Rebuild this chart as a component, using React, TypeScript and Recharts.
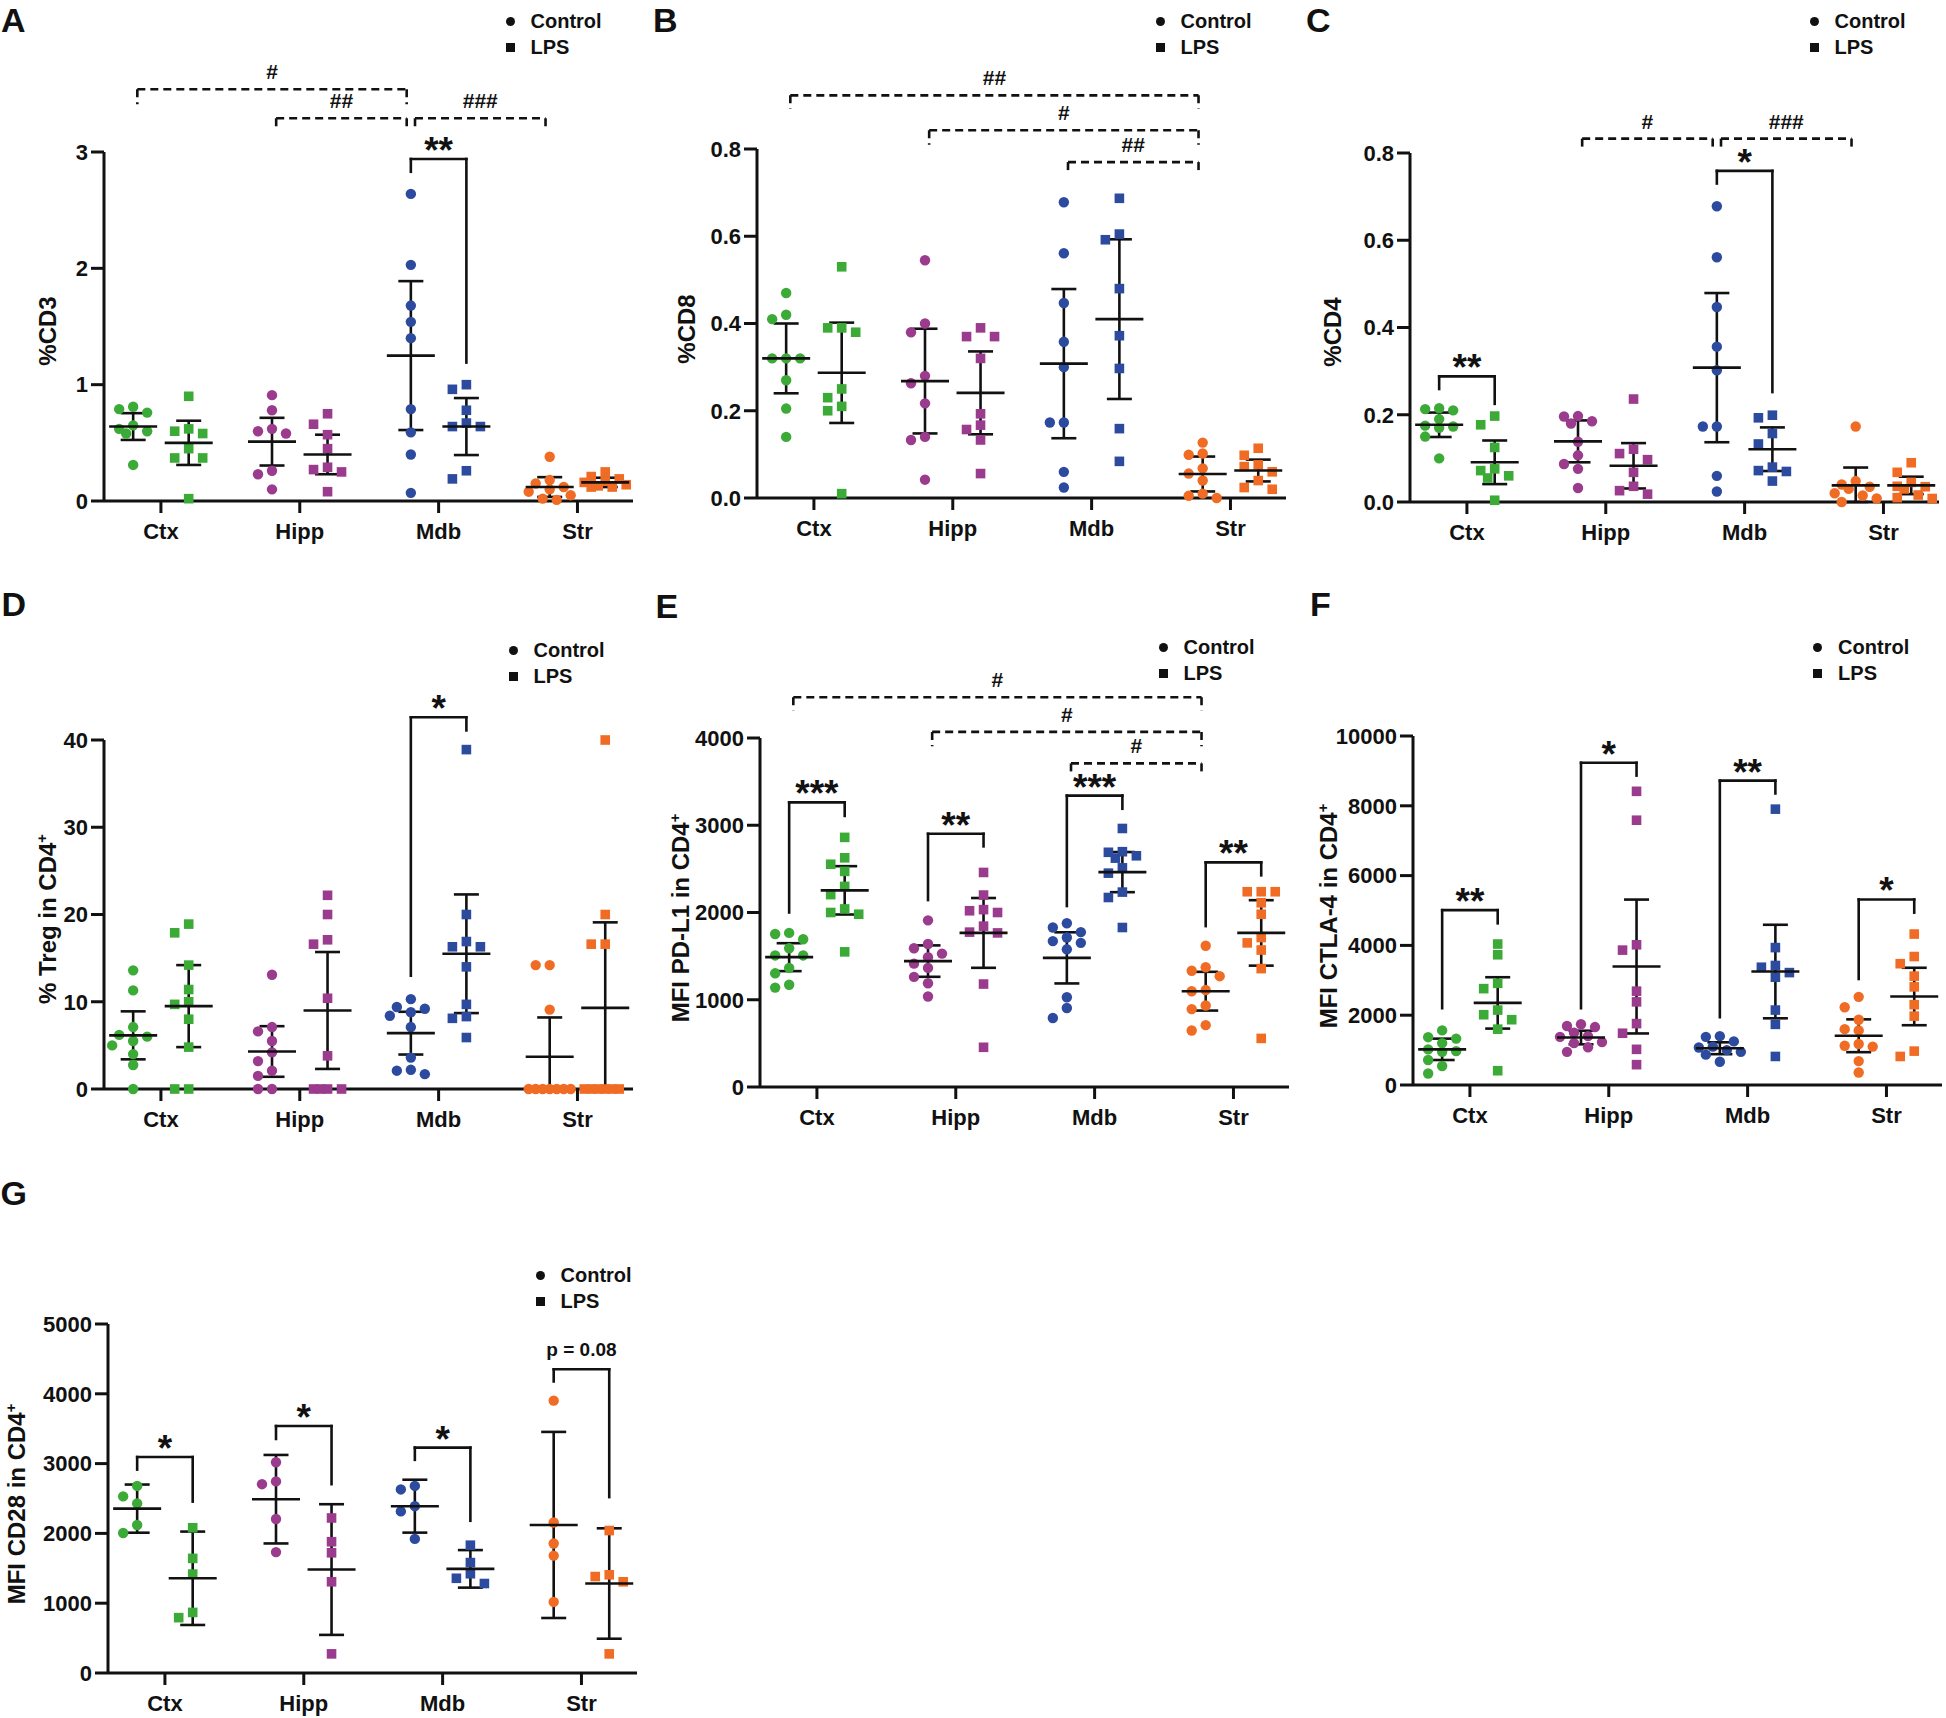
import React from "react";
import { ScatterChart, Scatter, XAxis, YAxis, ErrorBar, ReferenceLine } from "recharts";

const REGIONS = ["Ctx", "Hipp", "Mdb", "Str"];
const COLORS = ["#3BAA36", "#9B3B8D", "#2D4B9E", "#F06B23"];

type Bracket = {
  from: [number, number]; // [region, group] group 0 = Control, 1 = LPS
  to: [number, number];
  y: number;
  legs: [number, number];
  text: string;
  dashed?: boolean;
};

// A: %CD3
const cd3Ctrl = [
  [0.81, 0.79, 0.76, 0.65, 0.62, 0.6, 0.58, 0.31],
  [0.91, 0.78, 0.62, 0.6, 0.58, 0.26, 0.23, 0.1],
  [2.64, 2.03, 1.68, 1.54, 1.4, 0.79, 0.59, 0.4, 0.07],
  [0.38, 0.18, 0.15, 0.12, 0.1, 0.08, 0.05, 0.02, 0.01],
];
const cd3Lps = [
  [0.9, 0.62, 0.6, 0.58, 0.45, 0.37, 0.37, 0.02],
  [0.75, 0.66, 0.57, 0.45, 0.29, 0.27, 0.25, 0.08],
  [1.0, 0.96, 0.78, 0.67, 0.64, 0.64, 0.26, 0.19],
  [0.25, 0.21, 0.19, 0.17, 0.16, 0.14, 0.13, 0.12, 0.12],
];
const cd3CtrlMean = [0.64, 0.51, 1.25, 0.12];
const cd3CtrlSd = [0.115, 0.205, 0.64, 0.085];
const cd3LpsMean = [0.5, 0.4, 0.64, 0.16];
const cd3LpsSd = [0.19, 0.17, 0.245, 0.04];
const cd3Ticks = [0, 1, 2, 3];
const cd3Brackets: Bracket[] = [
  { from: [0, 0], to: [2, 0], y: 3.54, legs: [3.41, 3.41], text: "#", dashed: true },
  { from: [1, 0], to: [2, 0], y: 3.29, legs: [3.18, 3.18], text: "##", dashed: true },
  { from: [2, 0], to: [3, 0], y: 3.29, legs: [3.18, 3.18], text: "###", dashed: true },
  { from: [2, 0], to: [2, 1], y: 2.94, legs: [2.83, 1.19], text: "**" },
];

// B: %CD8
const cd8Ctrl = [
  [0.47, 0.42, 0.41, 0.32, 0.32, 0.32, 0.27, 0.205, 0.14],
  [0.545, 0.4, 0.38, 0.28, 0.263, 0.217, 0.14, 0.133, 0.042],
  [0.678, 0.561, 0.447, 0.358, 0.3, 0.173, 0.173, 0.06, 0.024],
  [0.127, 0.102, 0.099, 0.068, 0.056, 0.04, 0.01, 0.005, 0.0],
];
const cd8Lps = [
  [0.53, 0.39, 0.39, 0.38, 0.25, 0.23, 0.21, 0.2, 0.01],
  [0.39, 0.37, 0.37, 0.32, 0.193, 0.167, 0.157, 0.133, 0.056],
  [0.687, 0.605, 0.592, 0.48, 0.372, 0.297, 0.159, 0.084],
  [0.114, 0.098, 0.076, 0.072, 0.06, 0.04, 0.024, 0.02],
];
const cd8CtrlMean = [0.32, 0.268, 0.308, 0.055];
const cd8CtrlSd = [0.08, 0.12, 0.171, 0.04];
const cd8LpsMean = [0.287, 0.241, 0.41, 0.063];
const cd8LpsSd = [0.115, 0.095, 0.183, 0.025];
const cd8Ticks = [0, 0.2, 0.4, 0.6, 0.8];
const cd8Brackets: Bracket[] = [
  { from: [0, 0], to: [3, 0], y: 0.923, legs: [0.892, 0.892], text: "##", dashed: true },
  { from: [1, 0], to: [3, 0], y: 0.843, legs: [0.81, 0.81], text: "#", dashed: true },
  { from: [2, 0], to: [3, 0], y: 0.77, legs: [0.744, 0.744], text: "##", dashed: true },
];

// C: %CD4
const cd4Ctrl = [
  [0.215, 0.213, 0.21, 0.19, 0.175, 0.173, 0.17, 0.15, 0.1],
  [0.197, 0.196, 0.185, 0.18, 0.138, 0.107, 0.087, 0.076, 0.032],
  [0.678, 0.561, 0.447, 0.356, 0.302, 0.173, 0.173, 0.06, 0.024],
  [0.173, 0.048, 0.04, 0.035, 0.03, 0.02, 0.015, 0.008, 0.0],
];
const cd4Lps = [
  [0.197, 0.177, 0.125, 0.076, 0.072, 0.06, 0.055, 0.004],
  [0.236, 0.121, 0.111, 0.097, 0.068, 0.036, 0.026, 0.018],
  [0.199, 0.193, 0.157, 0.133, 0.08, 0.072, 0.07, 0.048],
  [0.09, 0.068, 0.045, 0.036, 0.035, 0.03, 0.016, 0.01, 0.008],
];
const cd4CtrlMean = [0.177, 0.139, 0.308, 0.038];
const cd4CtrlSd = [0.028, 0.048, 0.171, 0.041];
const cd4LpsMean = [0.091, 0.083, 0.121, 0.038];
const cd4LpsSd = [0.05, 0.052, 0.05, 0.02];
const cd4Ticks = [0, 0.2, 0.4, 0.6, 0.8];
const cd4Brackets: Bracket[] = [
  { from: [0, 0], to: [0, 1], y: 0.288, legs: [0.259, 0.225], text: "**" },
  { from: [1, 0], to: [2, 0], y: 0.833, legs: [0.805, 0.805], text: "#", dashed: true },
  { from: [2, 0], to: [3, 0], y: 0.833, legs: [0.805, 0.805], text: "###", dashed: true },
  { from: [2, 0], to: [2, 1], y: 0.759, legs: [0.73, 0.252], text: "*" },
];

// D: % Treg in CD4+
const tregCtrl = [
  [13.6, 11.3, 7.1, 6.2, 6.0, 5.5, 5.0, 4.0, 2.75, 0],
  [13.1, 7.1, 6.6, 5.5, 4.2, 3.2, 2.1, 1.5, 0, 0],
  [10.3, 9.4, 9.2, 8.8, 8.4, 7.1, 3.6, 2.2, 2.1, 1.7],
  [14.2, 14.2, 9.1, 0, 0, 0, 0, 0, 0, 0],
];
const tregLps = [
  [18.9, 17.9, 14.2, 11.4, 10.0, 9.7, 8.0, 4.8, 0, 0],
  [22.2, 20.0, 17.1, 16.6, 10.4, 3.8, 0, 0, 0, 0],
  [38.9, 20.0, 16.9, 16.3, 16.3, 14.0, 9.7, 8.3, 8.1, 5.9],
  [40, 20, 16.6, 16.6, 0, 0, 0, 0, 0, 0],
];
const tregCtrlMean = [6.15, 4.3, 6.4, 3.7];
const tregCtrlSd = [2.75, 2.9, 2.45, 4.5];
const tregLpsMean = [9.5, 9.0, 15.5, 9.3];
const tregLpsSd = [4.7, 6.7, 6.8, 9.8];
const tregTicks = [0, 10, 20, 30, 40];
const tregBrackets: Bracket[] = [
  { from: [2, 0], to: [2, 1], y: 42.6, legs: [13.0, 41.1], text: "*" },
];

// E: MFI PD-L1 in CD4+
const pdl1Ctrl = [
  [1766, 1754, 1693, 1590, 1508, 1508, 1365, 1303, 1172, 1139],
  [1910, 1639, 1590, 1529, 1488, 1414, 1365, 1262, 1189, 1037],
  [1877, 1828, 1775, 1713, 1672, 1652, 1578, 1029, 906, 791],
  [1619, 1373, 1332, 1270, 1111, 1098, 934, 893, 709, 648],
];
const pdl1Lps = [
  [2861, 2627, 2553, 2471, 2299, 2205, 2041, 2000, 1980, 1549],
  [2459, 2200, 2033, 2020, 2000, 1844, 1775, 1766, 1180, 455],
  [2963, 2697, 2690, 2650, 2623, 2512, 2451, 2234, 2172, 1828],
  [2238, 2238, 2238, 2111, 1980, 1713, 1652, 1570, 1357, 557],
];
const pdl1CtrlMean = [1488, 1443, 1480, 1098];
const pdl1CtrlSd = [160, 180, 293, 222];
const pdl1LpsMean = [2254, 1766, 2463, 1766];
const pdl1LpsSd = [277, 400, 230, 375];
const pdl1Ticks = [0, 1000, 2000, 3000, 4000];
const pdl1Brackets: Bracket[] = [
  { from: [0, 0], to: [0, 1], y: 3262, legs: [2000, 3107], text: "***" },
  { from: [1, 0], to: [1, 1], y: 2902, legs: [2143, 2758], text: "**" },
  { from: [2, 0], to: [2, 1], y: 3340, legs: [2074, 3189], text: "***" },
  { from: [3, 0], to: [3, 1], y: 2574, legs: [1844, 2426], text: "**" },
  { from: [0, 0], to: [3, 0], y: 4467, legs: [4316, 4316], text: "#", dashed: true },
  { from: [1, 0], to: [3, 0], y: 4070, legs: [3906, 3906], text: "#", dashed: true },
  { from: [2, 0], to: [3, 0], y: 3709, legs: [3566, 3566], text: "#", dashed: true },
];

// F: MFI CTLA-4 in CD4+
const ctla4Ctrl = [
  [1564, 1370, 1330, 1200, 1020, 970, 950, 716, 545, 330],
  [1740, 1690, 1660, 1500, 1400, 1380, 1230, 1200, 1080, 950],
  [1400, 1380, 1250, 1100, 1074, 1000, 950, 869, 665],
  [2526, 2229, 1871, 1600, 1564, 1176, 1125, 1100, 685, 358],
];
const ctla4Lps = [
  [4039, 3732, 2914, 2761, 2147, 2014, 1871, 1600, 409],
  [8415, 7587, 4018, 3865, 2689, 2382, 1759, 1483, 1022, 583],
  [7904, 3937, 3425, 3374, 3221, 3088, 2147, 1738, 818],
  [4325, 3681, 3476, 3119, 2812, 2301, 1973, 971, 818],
];
const ctla4CtrlMean = [1022, 1360, 1053, 1411];
const ctla4CtrlSd = [306, 195, 170, 470];
const ctla4LpsMean = [2352, 3395, 3251, 2536];
const ctla4LpsSd = [736, 1918, 1340, 823];
const ctla4Ticks = [0, 2000, 4000, 6000, 8000, 10000];
const ctla4Brackets: Bracket[] = [
  { from: [0, 0], to: [0, 1], y: 5010, legs: [2200, 4632], text: "**" },
  { from: [1, 0], to: [1, 1], y: 9233, legs: [2200, 8865], text: "*" },
  { from: [2, 0], to: [2, 1], y: 8722, legs: [1943, 8354], text: "**" },
  { from: [3, 0], to: [3, 1], y: 5317, legs: [3037, 4939], text: "*" },
];

// G: MFI CD28 in CD4+
const cd28Ctrl = [
  [2680, 2530, 2430, 2121, 2006],
  [3019, 2745, 2705, 2206, 1732],
  [2680, 2630, 2390, 2315, 1921],
  [3902, 2156, 1856, 1682, 1018],
];
const cd28Lps = [
  [2081, 1642, 1417, 868, 793],
  [2221, 1881, 1722, 1307, 274],
  [1831, 1582, 1422, 1357, 1282],
  [2041, 1407, 1382, 1307, 274],
];
const cd28CtrlMean = [2355, 2490, 2390, 2121];
const cd28CtrlSd = [345, 634, 379, 1333];
const cd28LpsMean = [1357, 1482, 1492, 1282];
const cd28LpsSd = [669, 936, 269, 791];
const cd28Ticks = [0, 1000, 2000, 3000, 4000, 5000];
const cd28Brackets: Bracket[] = [
  { from: [0, 0], to: [0, 1], y: 3094, legs: [2914, 2455], text: "*" },
  { from: [1, 0], to: [1, 1], y: 3538, legs: [3353, 2705], text: "*" },
  { from: [2, 0], to: [2, 1], y: 3229, legs: [3054, 2181], text: "*" },
  { from: [3, 0], to: [3, 1], y: 4351, legs: [4177, 2520], text: "p = 0.08" },
];

// layout
const PH = 349;
const PW = 529;
const YW = 95;
const MT = 150;
const XH = 50;
const MR = 4;
const X_DOMAIN: [number, number] = [0.59, 4.4];
const PX_X = PW / (X_DOMAIN[1] - X_DOMAIN[0]);
const SIDE = 0.2;
const SWARM_STEP = 14;
const SWARM_D = 10.5;
const INK = "#111";
const LW = 2.6;

function swarm(values: number[], pxPerUnit: number): number[] {
  const placed: { dx: number; py: number }[] = [];
  const cands = [0, -1, 1, -0.5, 0.5, -1.5, 1.5];
  return values.map((v) => {
    const py = v * pxPerUnit;
    let best = 0;
    let bestGap = -1;
    for (const k of cands) {
      const dx = k * SWARM_STEP;
      let gap = Infinity;
      for (const p of placed) gap = Math.min(gap, Math.hypot(p.dx - dx, p.py - py));
      if (gap >= SWARM_D) {
        best = dx;
        break;
      }
      if (gap > bestGap) {
        bestGap = gap;
        best = dx;
      }
    }
    placed.push({ dx: best, py });
    return best;
  });
}

const groupX = (region: number, group: number) => region + 1 + (group ? SIDE : -SIDE);

const MeanMark = (props: any) => (
  <line x1={props.cx - 24} x2={props.cx + 24} y1={props.cy} y2={props.cy} stroke={INK} strokeWidth={LW} />
);

function bracketLines(b: Bracket, key: string) {
  const inset = b.dashed ? 0.03 : 0;
  const xa = groupX(b.from[0], b.from[1]) + inset;
  const xb = groupX(b.to[0], b.to[1]) - inset;
  const style = {
    stroke: INK,
    strokeWidth: LW,
    strokeDasharray: b.dashed ? "8 5" : undefined,
    strokeLinecap: b.dashed ? ("butt" as const) : ("square" as const),
  };
  const star = b.text.startsWith("*");
  const hash = b.text.startsWith("#");
  return [
    <ReferenceLine
      key={key + "h"}
      segment={[{ x: xa, y: b.y }, { x: xb, y: b.y }]}
      ifOverflow="visible"
      {...style}
      label={{
        value: b.text,
        position: "top",
        offset: star ? -4 : hash ? 10 : 13,
        fontSize: star ? 37 : hash ? 21 : 19,
        fontWeight: 700,
        fill: INK,
      }}
    />,
    <ReferenceLine key={key + "l"} segment={[{ x: xa, y: b.y }, { x: xa, y: b.legs[0] }]} ifOverflow="visible" {...style} />,
    <ReferenceLine key={key + "r"} segment={[{ x: xb, y: b.y }, { x: xb, y: b.legs[1] }]} ifOverflow="visible" {...style} />,
  ];
}

type PanelDef = {
  letter: string;
  title: React.ReactNode;
  max: number;
  ticks: number[];
  fmt: (v: number) => string;
  ctrl: number[][];
  lps: number[][];
  ctrlMean: number[];
  ctrlSd: number[];
  lpsMean: number[];
  lpsSd: number[];
  brackets: Bracket[];
  x0: number;
  yTop: number;
  titleDx: number;
  legend: [number, number];
  letterPos: [number, number];
};

const int = (v: number) => String(v);
const dec = (v: number) => v.toFixed(1);
const cd4sup = (s: string) => (
  <span>
    {s}
    <sup style={{ fontSize: "62%", verticalAlign: "super", lineHeight: 0 }}>+</sup>
  </span>
);

const PANELS: PanelDef[] = [
  { letter: "A", title: "%CD3", max: 3, ticks: cd3Ticks, fmt: int, ctrl: cd3Ctrl, lps: cd3Lps, ctrlMean: cd3CtrlMean, ctrlSd: cd3CtrlSd, lpsMean: cd3LpsMean, lpsSd: cd3LpsSd, brackets: cd3Brackets, x0: 103.6, yTop: 151.5, titleDx: 56, legend: [510, 21], letterPos: [1, 2.5] },
  { letter: "B", title: "%CD8", max: 0.8, ticks: cd8Ticks, fmt: dec, ctrl: cd8Ctrl, lps: cd8Lps, ctrlMean: cd8CtrlMean, ctrlSd: cd8CtrlSd, lpsMean: cd8LpsMean, lpsSd: cd8LpsSd, brackets: cd8Brackets, x0: 757, yTop: 149, titleDx: 70, legend: [1160, 21], letterPos: [653, 2.5] },
  { letter: "C", title: "%CD4", max: 0.8, ticks: cd4Ticks, fmt: dec, ctrl: cd4Ctrl, lps: cd4Lps, ctrlMean: cd4CtrlMean, ctrlSd: cd4CtrlSd, lpsMean: cd4LpsMean, lpsSd: cd4LpsSd, brackets: cd4Brackets, x0: 1410, yTop: 152.6, titleDx: 77, legend: [1814, 21], letterPos: [1306, 2.5] },
  { letter: "D", title: cd4sup("% Treg in CD4"), max: 40, ticks: tregTicks, fmt: int, ctrl: tregCtrl, lps: tregLps, ctrlMean: tregCtrlMean, ctrlSd: tregCtrlSd, lpsMean: tregLpsMean, lpsSd: tregLpsSd, brackets: tregBrackets, x0: 103.6, yTop: 739.6, titleDx: 56, legend: [513, 650], letterPos: [1.5, 587] },
  { letter: "E", title: cd4sup("MFI PD-L1 in CD4"), max: 4000, ticks: pdl1Ticks, fmt: int, ctrl: pdl1Ctrl, lps: pdl1Lps, ctrlMean: pdl1CtrlMean, ctrlSd: pdl1CtrlSd, lpsMean: pdl1LpsMean, lpsSd: pdl1LpsSd, brackets: pdl1Brackets, x0: 760, yTop: 738, titleDx: 79, legend: [1163, 647], letterPos: [655.5, 589] },
  { letter: "F", title: cd4sup("MFI CTLA-4 in CD4"), max: 10000, ticks: ctla4Ticks, fmt: int, ctrl: ctla4Ctrl, lps: ctla4Lps, ctrlMean: ctla4CtrlMean, ctrlSd: ctla4CtrlSd, lpsMean: ctla4LpsMean, lpsSd: ctla4LpsSd, brackets: ctla4Brackets, x0: 1413, yTop: 736, titleDx: 84, legend: [1817.6, 647], letterPos: [1310, 587] },
  { letter: "G", title: cd4sup("MFI CD28 in CD4"), max: 5000, ticks: cd28Ticks, fmt: int, ctrl: cd28Ctrl, lps: cd28Lps, ctrlMean: cd28CtrlMean, ctrlSd: cd28CtrlSd, lpsMean: cd28LpsMean, lpsSd: cd28LpsSd, brackets: cd28Brackets, x0: 108, yTop: 1324, titleDx: 91, legend: [540, 1275], letterPos: [0.5, 1175.5] },
];

function Legend({ x, y }: { x: number; y: number }) {
  const row = { display: "flex", alignItems: "center", height: 26 } as const;
  const mark = { width: 9, height: 9, background: INK, display: "inline-block", marginRight: 16 } as const;
  return (
    <div style={{ position: "absolute", left: x - 4.5, top: y - 13, fontSize: 20, fontWeight: 700, lineHeight: "26px" }}>
      <div style={row}>
        <span style={{ ...mark, borderRadius: "50%" }} />
        Control
      </div>
      <div style={row}>
        <span style={mark} />
        LPS
      </div>
    </div>
  );
}

function Panel({ p }: { p: PanelDef }) {
  const pxY = PH / p.max;
  const series: { key: string; color: string; square: boolean; data: { x: number; y: number }[] }[] = [];
  [p.ctrl, p.lps].forEach((groups, g) => {
    groups.forEach((vals, r) => {
      const offs = swarm(vals, pxY);
      series.push({
        key: `${g}-${r}`,
        color: COLORS[r],
        square: g === 1,
        data: vals.map((v, i) => ({ x: groupX(r, g) + offs[i] / PX_X, y: v })),
      });
    });
  });
  const means: { x: number; y: number; err: [number, number] }[] = [];
  for (let r = 0; r < 4; r++) {
    means.push({ x: groupX(r, 0), y: p.ctrlMean[r], err: [Math.min(p.ctrlSd[r], p.ctrlMean[r]), p.ctrlSd[r]] });
    means.push({ x: groupX(r, 1), y: p.lpsMean[r], err: [Math.min(p.lpsSd[r], p.lpsMean[r]), p.lpsSd[r]] });
  }
  const axisStroke = { stroke: INK, strokeWidth: 3 };
  return (
    <>
      <div style={{ position: "absolute", left: p.x0 - YW, top: p.yTop - MT }}>
        <ScatterChart
          width={YW + PW + MR}
          height={MT + PH + XH}
          margin={{ top: MT, right: MR, bottom: 0, left: 0 }}
        >
          <XAxis
            type="number"
            dataKey="x"
            domain={X_DOMAIN}
            ticks={[1, 2, 3, 4]}
            interval={0}
            tickFormatter={(v: number) => REGIONS[Math.round(v) - 1]}
            height={XH}
            axisLine={axisStroke}
            tickLine={axisStroke}
            tickSize={12}
            tickMargin={10}
            tick={{ fontSize: 22, fontWeight: 700, fill: INK }}
          />
          <YAxis
            type="number"
            dataKey="y"
            domain={[0, p.max]}
            ticks={p.ticks}
            interval={0}
            tickFormatter={p.fmt}
            width={YW}
            axisLine={axisStroke}
            tickLine={axisStroke}
            tickSize={13}
            tickMargin={3}
            tick={{ fontSize: 22, fontWeight: 700, fill: INK }}
          />
          {series.map((s) => (
            <Scatter
              key={s.key}
              data={s.data}
              isAnimationActive={false}
              shape={(props: any) =>
                s.square ? (
                  <rect x={props.cx - 4.8} y={props.cy - 4.8} width={9.6} height={9.6} fill={s.color} />
                ) : (
                  <circle cx={props.cx} cy={props.cy} r={5.2} fill={s.color} />
                )
              }
            />
          ))}
          <Scatter data={means} shape={MeanMark} isAnimationActive={false}>
            <ErrorBar dataKey="err" direction="y" width={12.5} stroke={INK} strokeWidth={LW} isAnimationActive={false} />
          </Scatter>
          {p.brackets.flatMap((b, i) => bracketLines(b, `${p.letter}${i}`))}
        </ScatterChart>
      </div>
      <div
        style={{
          position: "absolute",
          left: p.letterPos[0],
          top: p.letterPos[1],
          fontSize: 34,
          lineHeight: "34px",
          fontWeight: 700,
        }}
      >
        {p.letter}
      </div>
      <Legend x={p.legend[0]} y={p.legend[1]} />
      <div
        style={{
          position: "absolute",
          left: p.x0 - p.titleDx,
          top: p.yTop + PH / 2 + 5,
          transform: "translate(-50%, -50%) rotate(-90deg)",
          fontSize: 24,
          fontWeight: 700,
          whiteSpace: "nowrap",
          lineHeight: "28px",
        }}
      >
        {p.title}
      </div>
    </>
  );
}

export default function App() {
  return (
    <div
      style={{
        position: "absolute",
        left: 0,
        top: 0,
        width: 1946,
        height: 1718,
        background: "#fff",
        overflow: "hidden",
        color: INK,
        fontFamily: '"Liberation Sans", Arial, sans-serif',
      }}
    >
      {PANELS.map((p) => (
        <Panel key={p.letter} p={p} />
      ))}
    </div>
  );
}
